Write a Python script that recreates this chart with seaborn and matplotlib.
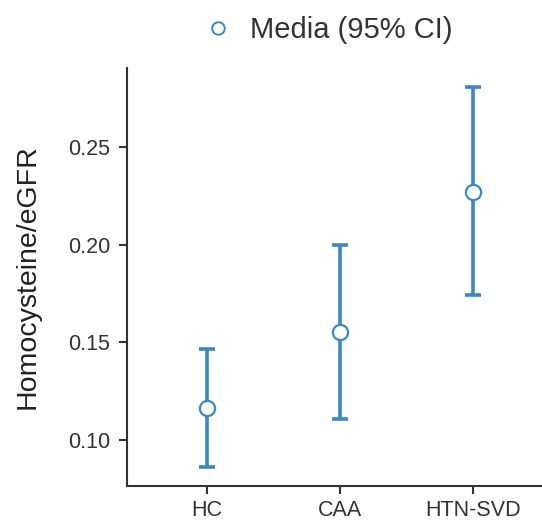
import matplotlib
matplotlib.use("Agg")
import matplotlib.pyplot as plt
import seaborn as sns
import pandas as pd
from matplotlib.lines import Line2D

groups = ["HC", "CAA", "HTN-SVD"]
means = [0.1164, 0.1553, 0.2272]
lower = [0.0862, 0.1110, 0.1742]
upper = [0.1464, 0.2000, 0.2806]

df = pd.DataFrame({"group": groups, "mean": means, "lo": lower, "hi": upper})

sns.set_theme(style="ticks")
plt.rcParams['font.family'] = ['Liberation Sans', 'DejaVu Sans']
color = "#3b88c6"

fig = plt.figure(figsize=(5.42, 5.22), dpi=100)
ax = fig.add_axes([0.2343, 0.069, 0.7657, 0.8007])

ax.errorbar(df["group"], df["mean"],
            yerr=[df["mean"] - df["lo"], df["hi"] - df["mean"]],
            fmt="none", ecolor=color, elinewidth=2.6, capsize=5.5, capthick=2.6, zorder=2)
sns.scatterplot(data=df, x="group", y="mean", ax=ax, s=120, marker="o",
                facecolor="white", edgecolor=color, linewidth=1.6, zorder=3, legend=False)

ax.set_xlim(-0.6, 2.52)
ax.set_ylim(0.0765, 0.2904)
ax.set_yticks([0.10, 0.15, 0.20, 0.25])
ax.set_yticklabels(["0.10", "0.15", "0.20", "0.25"])
ax.set_xlabel("")
ax.set_ylabel("Homocysteine/eGFR", fontsize=20.5, color="#222222", labelpad=20)
ax.tick_params(axis="both", labelsize=15.5, colors="#333333", length=6, width=1.5)
ax.tick_params(axis="y", pad=6)
ax.tick_params(axis="x", pad=4)
for s in ["left", "bottom"]:
    ax.spines[s].set_linewidth(1.5)
    ax.spines[s].set_color("#333333")
sns.despine(ax=ax)

handle = Line2D([], [], linestyle="none", marker="o", markersize=9,
                markerfacecolor="white", markeredgecolor=color, markeredgewidth=1.4)
fig.legend([handle], ["Media (95% CI)"], loc="center", bbox_to_anchor=(0.605, 0.943),
           frameon=False, fontsize=21, handlelength=1.0, handletextpad=0.6,
           labelcolor="#333333")

fig.savefig("out.png", dpi=100)
